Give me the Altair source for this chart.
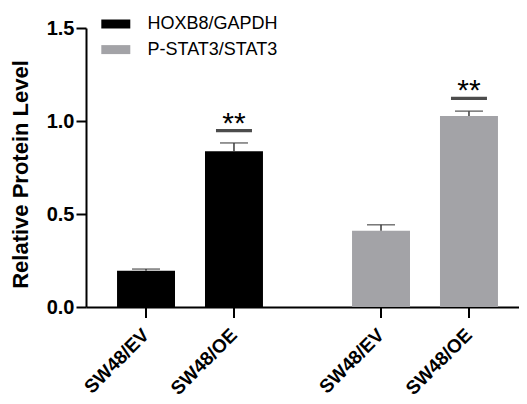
import altair as alt
import pandas as pd

groups = ["HOXB8/GAPDH", "HOXB8/GAPDH", "P-STAT3/STAT3", "P-STAT3/STAT3"]
samples = ["SW48/EV", "SW48/OE", "SW48/EV", "SW48/OE"]
means = [0.195, 0.837, 0.41, 1.027]
errors = [0.009, 0.045, 0.032, 0.026]
sig_groups = ["HOXB8/GAPDH", "P-STAT3/STAT3"]
sig_samples = ["SW48/OE", "SW48/OE"]
sig_levels = [0.948, 1.122]
sig_marks = ["**", "**"]
y_ticks = [0.0, 0.5, 1.0, 1.5]
legend_groups = ["HOXB8/GAPDH", "P-STAT3/STAT3"]
group_colors = ["#000000", "#A3A3A7"]

df = pd.DataFrame({"group": groups, "sample": samples, "mean": means, "err": errors})
df["upper"] = df["mean"] + df["err"]
sig = pd.DataFrame({"group": sig_groups, "sample": sig_samples,
                    "level": sig_levels, "mark": sig_marks})

W, H = 433, 279
FONT = "Arial, Liberation Sans, sans-serif"

x_axis = alt.Axis(title=None, labels=False, ticks=False, domain=True,
                  domainColor="black", domainWidth=2, grid=False)
x_scale = alt.Scale(paddingInner=0.379, paddingOuter=0.1108, align=0.596)
xo_scale = alt.Scale(paddingInner=0.341, paddingOuter=0)
y_scale = alt.Scale(domain=[0, 1.5], nice=False, zero=True)
y_axis = alt.Axis(title="Relative Protein Level", values=y_ticks, format=".1f",
                  tickSize=10, tickWidth=2, tickColor="black",
                  domainColor="black", domainWidth=2,
                  labelFont=FONT, labelFontSize=20, labelFontWeight="bold",
                  labelColor="black", labelPadding=2,
                  titleFont=FONT, titleFontSize=22, titleFontWeight="bold",
                  titleColor="black", titlePadding=14, titleY=146, grid=False)


def xs():
    return dict(x=alt.X("group:N", scale=x_scale, axis=x_axis),
                xOffset=alt.XOffset("sample:N", scale=xo_scale))


bars = alt.Chart(df).mark_bar().encode(
    **xs(),
    y=alt.Y("mean:Q", scale=y_scale, axis=y_axis),
    color=alt.Color("group:N",
                    scale=alt.Scale(domain=legend_groups, range=group_colors),
                    legend=alt.Legend(title=None, orient="none", legendX=20.8, legendY=-13,
                                      symbolType="M-2,-0.62H2V0.62H-2Z", symbolSize=210,
                                      symbolStrokeWidth=0, symbolOpacity=1,
                                      labelFont=FONT, labelFontSize=18, labelColor="black",
                                      labelOffset=22.7, rowPadding=7.6, padding=0)),
)

stems = alt.Chart(df).mark_rule(color="#3a3a3a", strokeWidth=1.5).encode(
    **xs(),
    y=alt.Y("mean:Q", scale=y_scale, axis=y_axis),
    y2="upper:Q",
)

caps = alt.Chart(df).mark_tick(color="#3a3a3a", thickness=1.5, size=28).encode(
    **xs(),
    y=alt.Y("upper:Q", scale=y_scale, axis=y_axis),
)

sig_line = alt.Chart(sig).mark_tick(color="black", thickness=3.3, size=36).encode(
    **xs(),
    y=alt.Y("level:Q", scale=y_scale, axis=y_axis),
)

stars = alt.Chart(sig).mark_text(font=FONT, fontSize=30, fontWeight="normal",
                                 baseline="alphabetic", align="center",
                                 color="black", dy=2).encode(
    **xs(),
    y=alt.Y("level:Q", scale=y_scale, axis=y_axis),
    text="mark:N",
)

x_ticks = alt.Chart(df).mark_rule(color="black", strokeWidth=2).encode(
    **xs(),
    y=alt.value(H),
    y2=alt.value(H + 11),
)

x_labels = alt.Chart(df).mark_text(angle=315, align="right", baseline="middle",
                                   font=FONT, fontSize=19, fontWeight="bold",
                                   color="black").encode(
    **xs(),
    y=alt.value(H + 25),
    text="sample:N",
)

chart = alt.layer(bars, stems, caps, sig_line, stars, x_ticks, x_labels).properties(
    width=W, height=H,
    padding={"left": 78, "top": 20, "right": 0, "bottom": 97},
    autosize=alt.AutoSizeParams(type="none"),
).configure_view(stroke=None)

chart.save("out.html", embed_options={"renderer": "svg", "actions": False})
